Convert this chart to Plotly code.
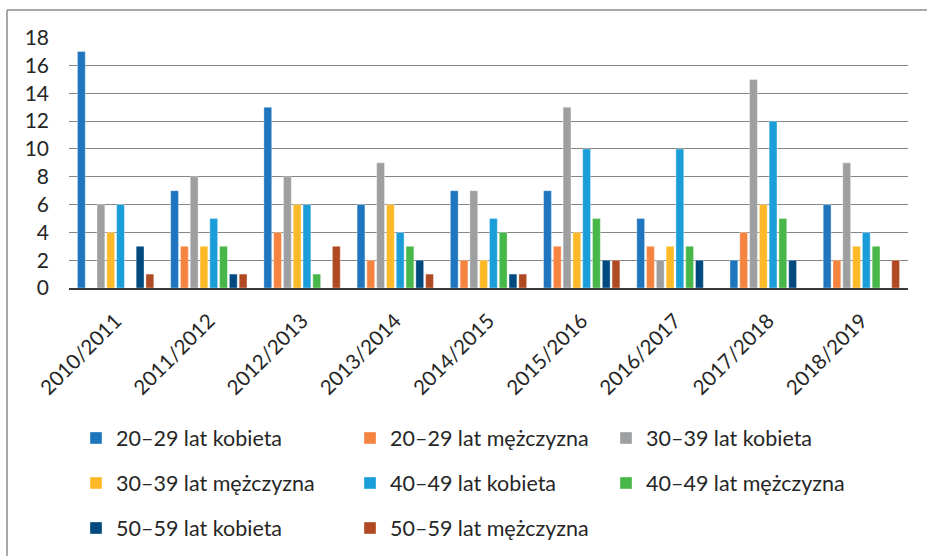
import plotly.graph_objects as go

categories = ["2010/2011", "2011/2012", "2012/2013", "2013/2014", "2014/2015",
              "2015/2016", "2016/2017", "2017/2018", "2018/2019"]

series_names = ["20–29 lat kobieta", "20–29 lat mężczyzna", "30–39 lat kobieta",
                "30–39 lat mężczyzna", "40–49 lat kobieta", "40–49 lat mężczyzna",
                "50–59 lat kobieta", "50–59 lat mężczyzna"]

k20 = [17, 7, 13, 6, 7, 7, 5, 2, 6]
m20 = [0, 3, 4, 2, 2, 3, 3, 4, 2]
k30 = [6, 8, 8, 9, 7, 13, 2, 15, 9]
m30 = [4, 3, 6, 6, 2, 4, 3, 6, 3]
k40 = [6, 5, 6, 4, 5, 10, 10, 12, 4]
m40 = [0, 3, 1, 3, 4, 5, 3, 5, 3]
k50 = [3, 1, 0, 2, 1, 2, 2, 2, 0]
m50 = [1, 1, 3, 1, 1, 2, 0, 0, 2]

series_values = [k20, m20, k30, m30, k40, m40, k50, m50]
colors = ["#1F76BE", "#F4843F", "#9E9FA1", "#FDB927",
          "#1A9DD9", "#48B749", "#004A80", "#B04A23"]

FONT = "Lato, 'Open Sans', sans-serif"

W, H = 927, 556
ml, mr, mt, mb = 69, 19, 37, 268
pw = W - ml - mr
ph = H - mt - mb

def px_x(x):
    return (x - ml) / pw

def px_y(y):
    return (H - mb - y) / ph

# legend grid (3 columns, 3 rows) in page pixels
col_x = [76, 350, 606]
row_y = [438, 483, 528]

fig = go.Figure()
legends = {}
for i, (name, vals, col) in enumerate(zip(series_names, series_values, colors)):
    lid = "legend" if i == 0 else f"legend{i + 1}"
    fig.add_trace(go.Bar(
        x=categories, y=vals, name=name, showlegend=True,
        marker=dict(color=col, line=dict(color="rgba(255,255,255,0.6)", width=0.6)),
        legend=lid,
    ))
    legends[lid] = dict(
        x=px_x(col_x[i % 3]), y=px_y(row_y[i // 3]),
        xanchor="left", yanchor="middle", orientation="h",
        font=dict(family=FONT, size=21.5, color="#262626"),
        itemwidth=30, bgcolor="rgba(0,0,0,0)",
        itemclick=False, itemdoubleclick=False,
    )

fig.update_layout(
    width=W, height=H, showlegend=True,
    margin=dict(l=ml, r=mr, t=mt, b=mb, autoexpand=False),
    paper_bgcolor="white", plot_bgcolor="white",
    barmode="group", bargap=0.16, bargroupgap=0.2,
    font=dict(family=FONT, color="#262626"),
    xaxis=dict(
        tickangle=-45, tickfont=dict(family=FONT, size=20.5, color="#262626"),
        showline=True, linecolor="#3a3a3a", linewidth=1.5,
        showgrid=False, ticks="", ticklabelstandoff=11,
    ),
    yaxis=dict(
        range=[0, 18.05], dtick=2, tick0=0,
        tickfont=dict(family=FONT, size=21, color="#262626"),
        showgrid=True, gridcolor="#858585", gridwidth=1.3,
        zeroline=False, showline=False, ticks="",
        ticklabelstandoff=19,
    ),
    shapes=[
        dict(type="line", xref="paper", yref="paper",
             x0=px_x(7), x1=px_x(7), y0=px_y(10), y1=px_y(560),
             line=dict(color="#8c8c8c", width=1.5)),
        dict(type="line", xref="paper", yref="paper",
             x0=px_x(7), x1=px_x(930), y0=px_y(10), y1=px_y(10),
             line=dict(color="#8c8c8c", width=1.5)),
    ],
    **legends,
)

fig.write_html("out.html",
               config={"displayModeBar": False},
               post_script="document.body.style.margin='0';document.body.style.overflow='hidden';")
